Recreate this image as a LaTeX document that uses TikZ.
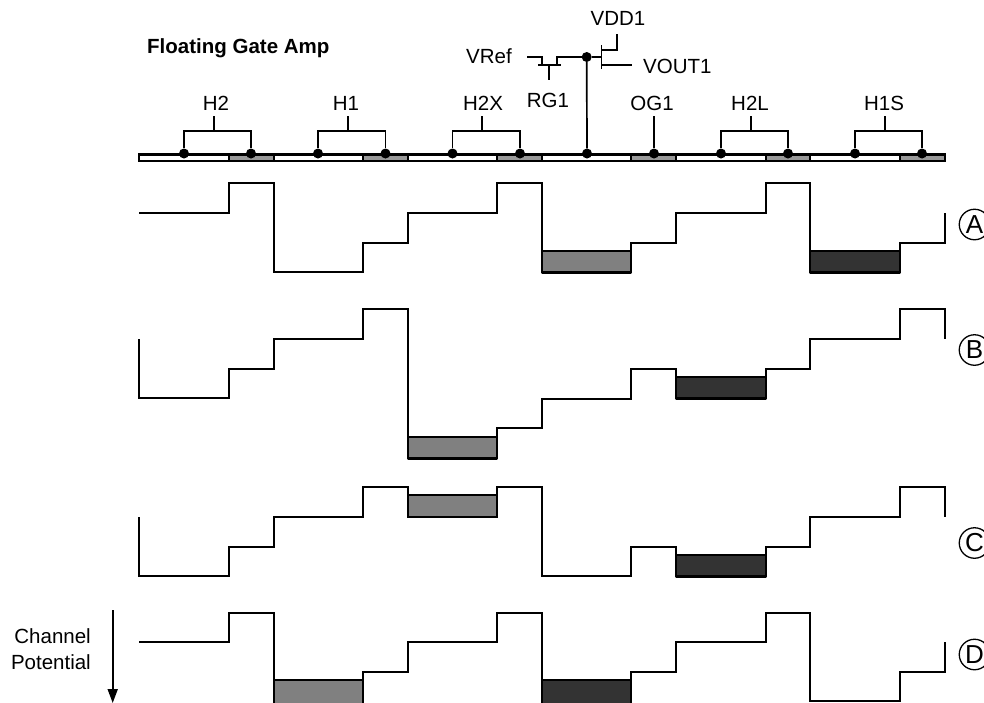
\documentclass[tikz,border=0pt]{standalone}
\usepackage{fontspec}
\setmainfont{Liberation Sans}
\usetikzlibrary{arrows.meta}
\definecolor{barlight}{gray}{0.5}
\definecolor{bardark}{gray}{0.2}
\definecolor{gatefill}{gray}{0.6}
\tikzset{
  wave/.style={draw=black,line width=1.6pt,line join=miter},
  charge/.style={draw=black,line width=2.6pt,line join=round},
  wire/.style={draw=black,line width=1.7pt},
  cell/.style={draw=black,line width=2.4pt},
  lbl/.style={font=\fontsize{20.5}{24}\selectfont,inner sep=0pt},
  dot/.style={circle,fill=black,inner sep=0pt,minimum size=10pt},
  tag/.style={circle,draw=black,line width=1.3pt,inner sep=0pt,minimum size=30.5pt,font=\fontsize{26}{28}\selectfont}
}
\begin{document}
\begin{tikzpicture}[x=1pt,y=-1pt]
\useasboundingbox (0,0) rectangle (984,702);
\clip (0,0) rectangle (984,702);
% gate strip
\foreach \a/\b in {139/229,274/363,408/497,542/631,676/766,810/900}{\draw[cell,fill=white] (\a,154.5) rectangle (\b,161);}
\foreach \a/\b in {229/274,363/408,497/542,631/676,766/810,900/945}{\draw[cell,fill=gatefill] (\a,154.5) rectangle (\b,161);}
% dots
\foreach \n/\x in {a/184,b/251,c/318,d/385.5,e/452.5,f/520,g/587,h/654,i/721,j/788,k/855,l/922}{\node[dot] (\n) at (\x,153.5) {};}
% labels and brackets
\node[lbl] (t2) at (216,103) {H2};
\node[lbl] (t1) at (346,103) {H1};
\node[lbl] (t2x) at (483,103) {H2X};
\node[lbl] (tog) at (652,103) {OG1};
\node[lbl] (t2l) at (750,103) {H2L};
\node[lbl] (t1s) at (884,103) {H1S};
\foreach \l/\p/\q/\m in {t2/a/b/214,t1/c/d/348,t2x/e/f/482,t2l/i/j/751,t1s/k/l/885}{
  \coordinate (l\l) at (\p |- 0,131);
  \coordinate (r\l) at (\q |- 0,131);
  \coordinate (m\l) at (\m,131);
  \coordinate (u\l) at (\m,116);
  \draw[wire,line join=miter] (\p) -- (l\l) -- (r\l) -- (\q);
  \draw[wire] (m\l) -- (u\l);
}
\coordinate (ogtop) at (654,116);
\draw[wire] (h) -- (ogtop);
% amp
\node[dot] (fg) at (586.7,57) {};
\draw[wire] (g) -- (fg);
\node[lbl,anchor=east] (vref) at (512,56) {VRef};
\node[lbl] (rg) at (548,100) {RG1};
\node[lbl] (vdd) at (618,18) {VDD1};
\node[lbl,anchor=west] (vout) at (643,66) {VOUT1};
\coordinate (s1) at (527,57); \coordinate (s2) at (542,57); \coordinate (s3) at (542,65);
\coordinate (s4) at (557,65); \coordinate (s5) at (557,57);
\draw[wire,line join=miter] (s1) -- (s2) -- (s3);
\draw[wire] (s4) -- (s5) -- (fg);
\coordinate (gl) at (538,65); \coordinate (gr) at (561,65);
\draw[wire] (gl) -- (gr);
\coordinate (gm) at (549,65); \coordinate (gb) at (549,80);
\draw[wire] (gm) -- (gb);
\coordinate (m1) at (601.5,57);
\draw[wire] (fg) -- (m1);
\coordinate (ct) at (601.5,45); \coordinate (cb) at (601.5,69);
\draw[wire] (ct) -- (cb);
\coordinate (dt) at (617,34); \coordinate (dm) at (617,50); \coordinate (dl) at (601.5,50);
\draw[wire,line join=miter] (dt) -- (dm) -- (dl);
\coordinate (ol) at (601.5,65); \coordinate (or) at (632,65);
\draw[wire] (ol) -- (or);
% title
\node[font=\fontsize{20.5}{24}\selectfont\bfseries,inner sep=0pt,anchor=west] (title) at (147,48) {Floating Gate Amp};
% A
\draw[wave] (139,213) -- (229,213) -- (229,183) -- (274,183) -- (274,272) -- (363,272) -- (363,243) -- (408,243) -- (408,213) -- (497,213) -- (497,183) -- (542,183) -- (542,272) -- (631,272) -- (631,243) -- (676,243) -- (676,213) -- (766,213) -- (766,183) -- (810,183) -- (810,272) -- (900,272) -- (900,243) -- (945,243) -- (945,213);
\draw[charge,fill=barlight] (542,251) rectangle (631,272.5);
\draw[charge,fill=bardark] (810,251) rectangle (900,272.5);
% B
\draw[wave] (139,339) -- (139,398) -- (229,398) -- (229,369) -- (274,369) -- (274,339) -- (363,339) -- (363,309) -- (408,309) -- (408,458) -- (497,458) -- (497,428) -- (542,428) -- (542,399) -- (631,399) -- (631,369) -- (676,369) -- (676,398) -- (766,398) -- (766,369) -- (810,369) -- (810,339) -- (900,339) -- (900,309) -- (945,309) -- (945,339);
\draw[charge,fill=barlight] (408,437) rectangle (497,458.5);
\draw[charge,fill=bardark] (676,377) rectangle (766,398.5);
% C
\draw[wave] (139,517) -- (139,576) -- (229,576) -- (229,547) -- (274,547) -- (274,517) -- (363,517) -- (363,487) -- (408,487) -- (408,517) -- (497,517) -- (497,487) -- (542,487) -- (542,576) -- (631,576) -- (631,547) -- (676,547) -- (676,576) -- (766,576) -- (766,547) -- (810,547) -- (810,517) -- (900,517) -- (900,487) -- (945,487) -- (945,517);
\draw[charge,fill=barlight] (408,495) rectangle (497,517);
\draw[charge,fill=bardark] (676,555) rectangle (766,576.5);
% D
\draw[wave] (139,642) -- (229,642) -- (229,613) -- (274,613) -- (274,702) -- (363,702) -- (363,672) -- (408,672) -- (408,642) -- (497,642) -- (497,613) -- (542,613) -- (542,702) -- (631,702) -- (631,672) -- (676,672) -- (676,642) -- (766,642) -- (766,613) -- (810,613) -- (810,701) -- (900,701) -- (900,672) -- (945,672) -- (945,642);
\draw[charge,fill=barlight] (274,680) rectangle (363,705);
\draw[charge,fill=bardark] (542,680) rectangle (631,705);
% tags
\node[tag] (A) at (974.5,224.5) {A};
\node[tag] (B) at (974.5,350) {B};
\node[tag] (C) at (974.5,543) {C};
\node[tag] (D) at (974.5,654.5) {D};
% channel potential
\node[lbl,align=right,anchor=east,font=\fontsize{20.5}{26}\selectfont] (cp) at (91,649) {Channel\\Potential};
\coordinate (ca) at (112.7,610); \coordinate (cc) at (112.7,703);
\draw[line width=1.7pt,-{Triangle[length=14pt,width=10pt]}] (ca) -- (cc);
\end{tikzpicture}
\end{document}
